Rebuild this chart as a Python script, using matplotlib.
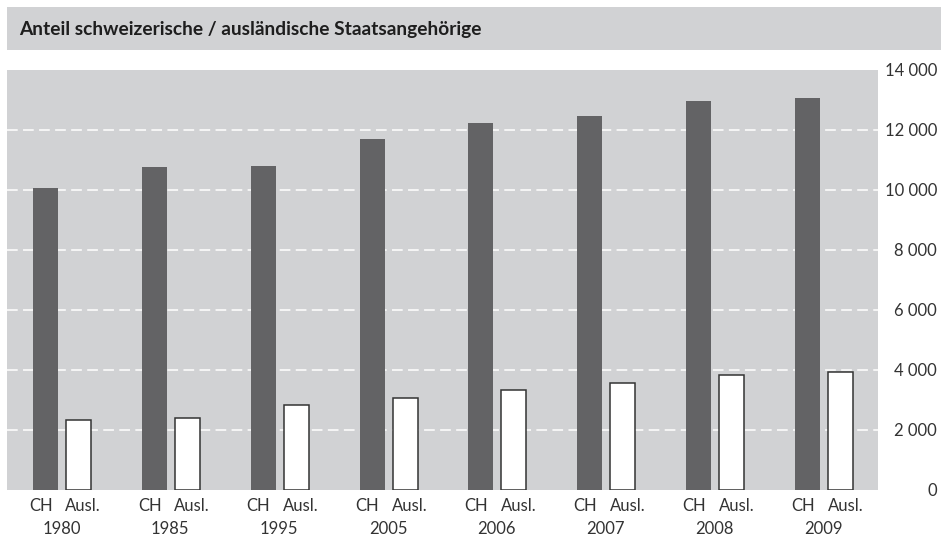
import matplotlib.pyplot as plt
import matplotlib as mpl
from matplotlib.patches import Rectangle
import numpy as np

mpl.rcParams['font.family'] = ['Lato', 'DejaVu Sans']

# Daten
jahre = ['1980', '1985', '1995', '2005', '2006', '2007', '2008', '2009']
ch = [10070, 10770, 10800, 11700, 12230, 12470, 12970, 13070]
ausl = [2340, 2390, 2850, 3080, 3330, 3570, 3840, 3950]
yticks = [0, 2000, 4000, 6000, 8000, 10000, 12000, 14000]
ytick_labels = ['0', '2 000', '4 000', '6 000', '8 000', '10 000', '12 000', '14 000']

W, H = 941, 551
fig = plt.figure(figsize=(W / 100, H / 100), dpi=100)

# Titelbalken
fig.patches.append(Rectangle((7 / W, 1 - 50 / H), 1 - 7 / W, 43 / H,
                             transform=fig.transFigure, facecolor='#d1d2d4',
                             edgecolor='none'))
fig.text(19 / W, 1 - 29 / H, 'Anteil schweizerische / ausländische Staatsangehörige',
         fontsize=13.8, fontweight='bold', color='#1e1e1e', va='center', ha='left')

ax = fig.add_axes([7 / W, (H - 490) / H, 871 / W, 420 / H])
ax.set_facecolor('#d1d2d4')

x = np.arange(len(jahre))
bw = 0.229
ax.bar(x - 0.147, ch, width=bw, color='#636365', zorder=2)
ax.bar(x + 0.156, ausl, width=bw, color='white', edgecolor='#333333',
       linewidth=1.1, zorder=2)

ax.set_xlim(-0.5, len(jahre) - 0.5)
ax.set_ylim(0, 14000)

for s in ax.spines.values():
    s.set_visible(False)

ax.set_yticks(yticks)
ax.set_yticklabels(ytick_labels)
ax.yaxis.tick_right()
ax.tick_params(axis='y', length=0, pad=42.5, labelsize=12, labelcolor='#333333')
for lab in ax.get_yticklabels():
    lab.set_horizontalalignment('right')

ax.set_xticks([])
for y in yticks[1:-1]:
    ax.axhline(y, color='white', linewidth=1.1, linestyle=(0, (7, 3.5)), zorder=1)

# Kategorien unter den Balken
for i, j in enumerate(jahre):
    ax.text(i - 0.19, -260, 'CH', fontsize=12, color='#333333',
            ha='center', va='top')
    ax.text(i + 0.2, -260, 'Ausl.', fontsize=12, color='#333333',
            ha='center', va='top')
    ax.text(i, -1020, j, fontsize=12, color='#333333', ha='center', va='top')

fig.savefig('out.png', dpi=100)
